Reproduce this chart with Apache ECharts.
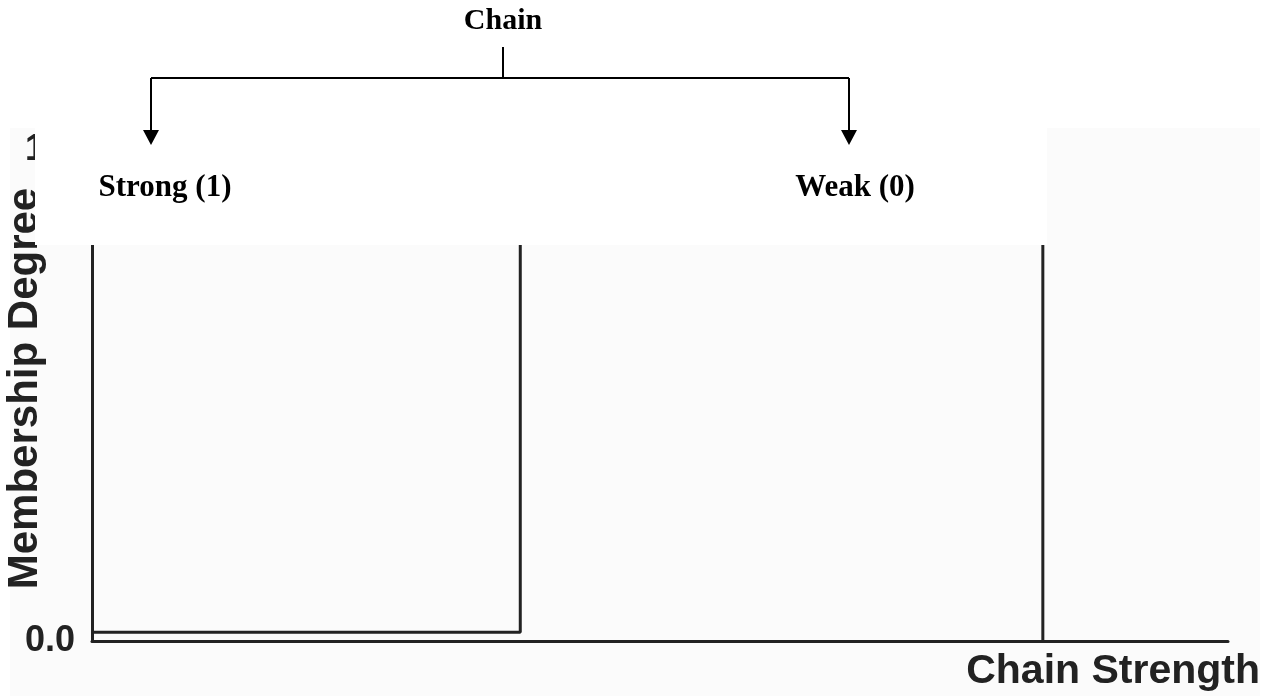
<!DOCTYPE html>
<html>
<head>
<meta charset="utf-8">
<script src="https://cdn.jsdelivr.net/npm/echarts@6/dist/echarts.min.js"></script>
<style>
html,body{margin:0;padding:0;background:#ffffff;}
#chart{width:1281px;height:696px;}
</style>
</head>
<body>
<div id="chart"></div>
<script>
// ---- data ----
const xRange = [0, 100];
const yTicks = [0, 1];
const yTickLabels = ['0.0', '1.0'];
const strongX = [0, 37.7, 37.7];
const strongY = [0.018, 0.018, 1];
const weakX = [83.7, 83.7];
const weakY = [0, 1];
const treeRoot = 'Chain';
const treeLeaves = ['Strong (1)', 'Weak (0)'];
const xName = 'Chain Strength';
const yName = 'Membership Degree';

const ink = '#222222';
const chart = echarts.init(document.getElementById('chart'), null, {renderer: 'canvas'});

const option = {
  backgroundColor: '#ffffff',
  animation: false,
  grid: {left: 92, right: 53, top: 150, bottom: 55, containLabel: false, outerBoundsMode: 'none'},
  xAxis: {
    type: 'value', min: xRange[0], max: xRange[1],
    axisLine: {show: true, onZero: false, lineStyle: {color: ink, width: 3}},
    axisTick: {show: false}, axisLabel: {show: false}, splitLine: {show: false},
    name: xName, nameLocation: 'end', nameGap: 32, nameMoveOverlap: false,
    nameTextStyle: {fontFamily: 'Liberation Sans, Arial', fontWeight: 'bold', fontSize: 41, color: ink,
      align: 'right', verticalAlign: 'top', padding: [10, 0, 0, 0]}
  },
  yAxis: {
    type: 'value', min: yTicks[0], max: yTicks[yTicks.length - 1], interval: 1,
    axisLine: {show: true, onZero: false, lineStyle: {color: ink, width: 3}},
    axisTick: {show: false}, splitLine: {show: false},
    axisLabel: {show: true, margin: 17, fontFamily: 'Liberation Sans, Arial', fontWeight: 'bold', fontSize: 36, color: ink,
      formatter: v => yTickLabels[yTicks.indexOf(v)]},
    name: yName, nameLocation: 'middle', nameGap: 46, nameRotate: 90, nameMoveOverlap: false,
    nameTextStyle: {fontFamily: 'Liberation Sans, Arial', fontWeight: 'bold', fontSize: 42, color: ink,
      padding: [0, 0, 0, 14]}
  },
  series: [
    {name: 'Strong', type: 'line', data: strongX.map((x, i) => [x, strongY[i]]), symbol: 'none',
      lineStyle: {color: ink, width: 3}, z: 3},
    {name: 'Weak', type: 'line', data: weakX.map((x, i) => [x, weakY[i]]), symbol: 'none',
      lineStyle: {color: ink, width: 3}, z: 3}
  ],
  graphic: [
    {type: 'rect', z: -10, silent: true, shape: {x: 10, y: 128, width: 1250, height: 568}, style: {fill: '#fbfbfb'}},
    {type: 'rect', z: 100, silent: true, shape: {x: 35, y: 0, width: 1012, height: 245}, style: {fill: '#ffffff'}},
    {type: 'text', z: 101, x: 503, y: 21, style: {text: treeRoot, fontFamily: 'Liberation Serif, Times New Roman', fontWeight: 'bold', fontSize: 30, fill: '#000', align: 'center', verticalAlign: 'middle'}},
    {type: 'line', z: 101, shape: {x1: 503, y1: 47, x2: 503, y2: 78}, style: {stroke: '#000', lineWidth: 2}},
    {type: 'line', z: 101, shape: {x1: 151, y1: 78, x2: 849, y2: 78}, style: {stroke: '#000', lineWidth: 2}},
    {type: 'line', z: 101, shape: {x1: 151, y1: 78, x2: 151, y2: 132}, style: {stroke: '#000', lineWidth: 2}},
    {type: 'line', z: 101, shape: {x1: 849, y1: 78, x2: 849, y2: 132}, style: {stroke: '#000', lineWidth: 2}},
    {type: 'polygon', z: 101, shape: {points: [[143, 130], [159, 130], [151, 145]]}, style: {fill: '#000'}},
    {type: 'polygon', z: 101, shape: {points: [[841, 130], [857, 130], [849, 145]]}, style: {fill: '#000'}},
    {type: 'text', z: 101, x: 165, y: 188, style: {text: treeLeaves[0], fontFamily: 'Liberation Serif, Times New Roman', fontWeight: 'bold', fontSize: 31, fill: '#000', align: 'center', verticalAlign: 'middle'}},
    {type: 'text', z: 101, x: 855, y: 188, style: {text: treeLeaves[1], fontFamily: 'Liberation Serif, Times New Roman', fontWeight: 'bold', fontSize: 31, fill: '#000', align: 'center', verticalAlign: 'middle'}}
  ]
};
chart.setOption(option);
</script>
</body>
</html>
